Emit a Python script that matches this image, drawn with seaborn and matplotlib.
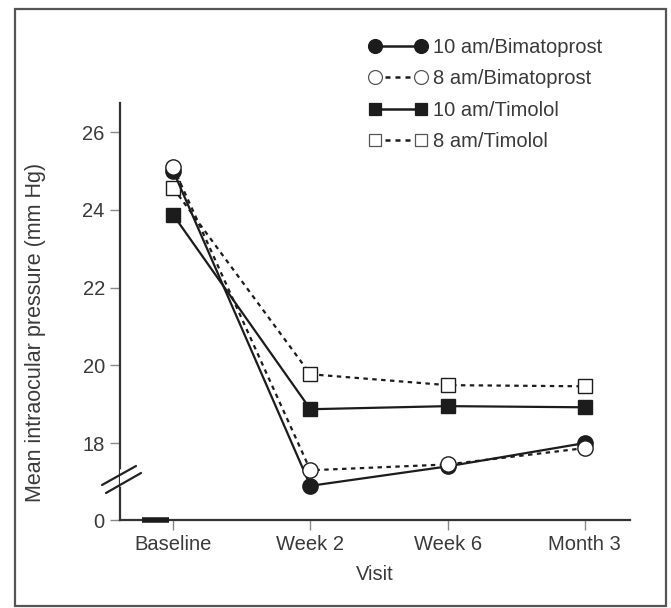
import numpy as np
import pandas as pd
import matplotlib
matplotlib.use("Agg")
import matplotlib.pyplot as plt
import seaborn as sns
from matplotlib.patches import Rectangle
from matplotlib.lines import Line2D

# Data
visits = ["Baseline", "Week 2", "Week 6", "Month 3"]
bim_10am = [25.0, 16.9, 17.4, 18.0]
bim_8am = [25.1, 17.3, 17.45, 17.87]
tim_10am = [23.87, 18.87, 18.95, 18.92]
tim_8am = [24.56, 19.77, 19.49, 19.46]

series_names = ["10 am/Bimatoprost", "8 am/Bimatoprost", "10 am/Timolol", "8 am/Timolol"]
series_values = [bim_10am, bim_8am, tim_10am, tim_8am]

ytick_vals = [16.02, 18, 20, 22, 24, 26]
ytick_labels = ["0", "18", "20", "22", "24", "26"]

df = pd.DataFrame({
    "visit": visits * 4,
    "pos": list(range(len(visits))) * 4,
    "iop": sum(series_values, []),
    "group": [n for n in series_names for _ in visits],
})

sns.set_theme(style="white")
plt.rcParams["font.family"] = ["Liberation Sans", "DejaVu Sans"]
ink = "#1c1c1c"
txt = "#3a3a3a"
fs = 14.5

fig = plt.figure(figsize=(6.71, 6.08), dpi=100)
ax = fig.add_axes([0.179, 0.1447, 0.760, 0.686])

styles = {
    "10 am/Bimatoprost": dict(marker="o", ms=11, mfc=ink, ls="-", z=4),
    "8 am/Bimatoprost": dict(marker="o", ms=11, mfc="white", ls=(0, (2, 2)), z=5),
    "10 am/Timolol": dict(marker="s", ms=10, mfc=ink, ls="-", z=3),
    "8 am/Timolol": dict(marker="s", ms=10, mfc="white", ls=(0, (2, 2)), z=2),
}

handles = []
for name in series_names:
    st = styles[name]
    sub = df[df["group"] == name]
    sns.lineplot(data=sub, x="pos", y="iop", ax=ax, color=ink, lw=1.6,
                 linestyle=st["ls"], marker=st["marker"], markersize=st["ms"],
                 markerfacecolor=st["mfc"], markeredgecolor=ink,
                 markeredgewidth=1.0, zorder=st["z"], legend=False)
    lmfc = st["mfc"]
    lec = ink if lmfc != "white" else "#555555"
    handles.append(Line2D([0], [0], color=ink, lw=1.8, linestyle=st["ls"],
                          marker=st["marker"], markersize=st["ms"] - 1,
                          markerfacecolor=lmfc, markeredgecolor=lec,
                          markeredgewidth=0.9, label=name))

ax.set_xlim(-0.387, 3.33)
ax.set_ylim(16.02, 26.75)
ax.set_xticks(range(len(visits)))
ax.set_xticklabels(visits)
ax.set_yticks(ytick_vals)
ax.set_yticklabels(ytick_labels)
ax.set_xlabel("Visit", fontsize=fs, color=txt, labelpad=8)
ax.set_ylabel("Mean intraocular pressure (mm Hg)", fontsize=15.5, color=txt)
ax.yaxis.set_label_coords(-0.145, 0.45)

for side in ["top", "right"]:
    ax.spines[side].set_visible(False)
for side in ["left", "bottom"]:
    ax.spines[side].set_color("#333333")
    ax.spines[side].set_linewidth(1.6)
ax.tick_params(axis="both", direction="out", length=7, width=1, color="#888888",
               labelsize=fs, labelcolor=txt, left=True, bottom=True, pad=4)

# short thick bar on the x axis near baseline
ax.plot([-0.226, -0.03], [16.02, 16.02], color=ink, lw=4, solid_capstyle="butt",
        clip_on=False, zorder=6)

# axis break marks
bx = [(102, 485, 136, 466), (106, 493, 141, 473)]
ax.add_line(Line2D([120 / 671, 120 / 671], [(608 - 472) / 608, (608 - 484) / 608],
                   transform=fig.transFigure, color="white", lw=4, zorder=7))
for x0, y0, x1, y1 in bx:
    fig.add_artist(Line2D([x0 / 671, x1 / 671], [(608 - y0) / 608, (608 - y1) / 608],
                          transform=fig.transFigure, color="#222222", lw=1.6, zorder=8))

leg = fig.legend(handles=handles, loc="upper left", bbox_to_anchor=(0.538, 0.951),
                 frameon=False, fontsize=fs, handlelength=2.9, numpoints=2,
                 handletextpad=0.3, labelspacing=0.62, borderaxespad=0)
for t in leg.get_texts():
    t.set_color(txt)

fig.add_artist(Rectangle((15 / 671, 2 / 608), 651 / 671, 597 / 608,
                         transform=fig.transFigure, fill=False,
                         edgecolor="#555555", lw=1.6))

fig.savefig("out.png", dpi=100)
